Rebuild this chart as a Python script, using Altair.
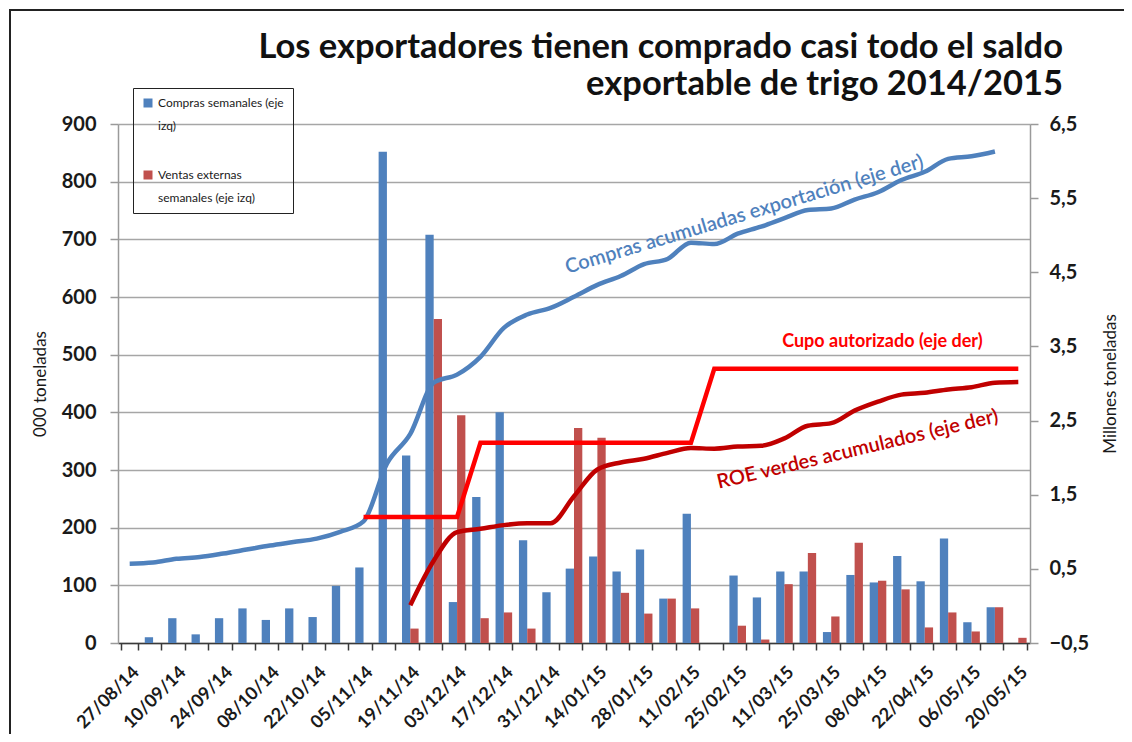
import json
import altair as alt
import pandas as pd

# ---------------- data ----------------
fechas = ["27/08/14", "03/09/14", "10/09/14", "17/09/14", "24/09/14", "01/10/14", "08/10/14",
          "15/10/14", "22/10/14", "29/10/14", "05/11/14", "12/11/14", "19/11/14", "26/11/14",
          "03/12/14", "10/12/14", "17/12/14", "24/12/14", "31/12/14", "07/01/15", "14/01/15",
          "21/01/15", "28/01/15", "04/02/15", "11/02/15", "18/02/15", "25/02/15", "04/03/15",
          "11/03/15", "18/03/15", "25/03/15", "01/04/15", "08/04/15", "15/04/15", "22/04/15",
          "29/04/15", "06/05/15", "13/05/15", "20/05/15"]

# weekly bars, thousand tonnes (left axis)
compras = [0, 10, 43, 15, 43, 60, 40, 60, 45, 99, 131, 852, 325, 708, 71, 253, 400, 178, 88, 129,
           150, 124, 162, 77, 224, 0, 117, 79, 124, 124, 19, 118, 105, 151, 107, 181, 36, 62, 0]
ventas = [0, 0, 0, 0, 0, 0, 0, 0, 0, 0, 0, 0, 25, 562, 395, 43, 53, 25, 0, 373,
          356, 87, 51, 77, 60, 0, 30, 6, 102, 156, 46, 174, 108, 93, 27, 53, 20, 62, 9]

# cumulative lines, million tonnes (right axis)
acumuladas = [0.57, 0.585, 0.636, 0.659, 0.706, 0.76, 0.814, 0.861, 0.908, 1.0, 1.14, 1.92, 2.32,
              3.01, 3.12, 3.36, 3.75, 3.93, 4.02, 4.17, 4.33, 4.45, 4.61, 4.68, 4.90, 4.88, 5.02,
              5.115, 5.23, 5.34, 5.36, 5.48, 5.58, 5.745, 5.855, 6.03, 6.065, 6.13, None]
cupo = [None, None, None, None, None, None, None, None, None, None,
        1.2, 1.2, 1.2, 1.2, 1.2,
        2.2, 2.2, 2.2, 2.2, 2.2, 2.2, 2.2, 2.2, 2.2, 2.2,
        3.2, 3.2, 3.2, 3.2, 3.2, 3.2, 3.2, 3.2, 3.2, 3.2, 3.2, 3.2, 3.2, 3.2]
roe = [None, None, None, None, None, None, None, None, None, None, None, None,
       0.01, 0.61, 0.995, 1.04, 1.09, 1.115, 1.115, 1.48, 1.84, 1.935, 1.985, 2.065, 2.13, 2.12,
       2.15, 2.16, 2.26, 2.43, 2.465, 2.634, 2.755, 2.85, 2.875, 2.92, 2.95, 3.01, 3.02]

serie_compras = "Compras semanales (eje izq)"
serie_ventas = "Ventas externas semanales (eje izq)"
etiquetas_x = fechas[::2]
ticks_izq = [0, 100, 200, 300, 400, 500, 600, 700, 800, 900]
ticks_der = [-0.5, 0.5, 1.5, 2.5, 3.5, 4.5, 5.5, 6.5]

anot_textos = ["Compras acumuladas exportación (eje der)", "Cupo autorizado (eje der)",
               "ROE verdes acumulados (eje der)"]
anot_fechas = ["25/02/15", "15/04/15", "01/04/15"]
anot_valores = [5.25, 3.56, 2.10]

titulo = ["Los exportadores tienen comprado casi todo el saldo", "exportable de trigo 2014/2015"]

# ---------------- tables ----------------
n = len(fechas)
bars_df = pd.DataFrame({
    "fecha": fechas + fechas,
    "serie": [serie_compras] * n + [serie_ventas] * n,
    "miles": compras + ventas,
})
lines_df = pd.DataFrame({
    "fecha": fechas * 3,
    "linea": ["acum"] * n + ["cupo"] * n + ["roe"] * n,
    "millones": acumuladas + cupo + roe,
})

FONT = "Lato"
AX_GRAY = "#9a9a9a"

x_enc = alt.X(
    "fecha:N", sort=fechas, title=None,
    scale=alt.Scale(paddingInner=0.29, paddingOuter=0.145),
    axis=alt.Axis(
        labelExpr="indexof(" + json.dumps(etiquetas_x) + ", datum.value) >= 0 ? datum.label : ''",
        labelAngle=-45, labelAlign="right", labelBaseline="top", labelOverlap=False,
        labelFontSize=18, labelFontWeight="bold", labelColor="#1a1a1a", labelPadding=13,
        tickBand="extent", tickSize=7, tickColor="#3a3a3a", tickWidth=1.5,
        domainColor="#3a3a3a", domainWidth=1.5, grid=False,
    ),
)

y_left = alt.Y(
    "miles:Q", title="000 toneladas",
    scale=alt.Scale(domain=[0, 900], nice=False),
    axis=alt.Axis(
        values=ticks_izq, grid=True, gridColor="#a6a6a6", gridWidth=1.5,
        domainColor=AX_GRAY, domainWidth=1.5, tickColor=AX_GRAY, tickWidth=1.5, tickSize=8,
        labelFontSize=20, labelFontWeight="bold", labelColor="#1a1a1a", labelPadding=14,
        titleFontSize=17, titleFontWeight="normal", titleColor="#1a1a1a", titlePadding=12,
    ),
)

y_right = alt.Y(
    "millones:Q", title="Millones toneladas",
    scale=alt.Scale(domain=[-0.5, 6.5], nice=False, zero=False),
    axis=alt.Axis(
        orient="right", values=ticks_der, grid=False,
        labelExpr="replace(format(datum.value, '.1f'), '.', ',')",
        domainColor=AX_GRAY, domainWidth=1.5, tickColor=AX_GRAY, tickWidth=1.5, tickSize=8,
        labelFontSize=20, labelFontWeight="bold", labelColor="#1a1a1a", labelPadding=11,
        titleFontSize=17, titleFontWeight="normal", titleColor="#1a1a1a", titlePadding=31,
        titleAngle=270,
    ),
)

frame = alt.Chart(pd.DataFrame({"k": [0]})).mark_rect(
    fill="transparent", stroke="#222222", strokeWidth=2
).encode(x=alt.value(-108), x2=alt.value(1100), y=alt.value(-114), y2=alt.value(700))

bars = alt.Chart(bars_df).mark_bar().encode(
    x=x_enc,
    xOffset=alt.XOffset("serie:N", sort=[serie_compras, serie_ventas]),
    y=y_left,
    color=alt.Color(
        "serie:N",
        scale=alt.Scale(domain=[serie_compras, serie_ventas], range=["#4F81BD", "#C0504D"]),
        legend=alt.Legend(
            title=None, orient="none", legendX=15, legendY=-36,
            strokeColor="#222222", padding=9, rowPadding=37,
            labelFont=FONT, labelFontSize=12, labelColor="#1a1a1a", labelLimit=200,
            symbolType="square", symbolSize=81, symbolStrokeWidth=0,
            labelExpr=("datum.label == '" + serie_compras + "' ? ['Compras semanales (eje', 'izq)']"
                       " : ['Ventas externas', 'semanales (eje izq)']"),
        ),
    ),
)

def linea(clave, color, interp):
    return alt.Chart(lines_df).transform_filter(alt.datum.linea == clave).mark_line(
        color=color, strokeWidth=4.5, interpolate=interp
    ).encode(x=x_enc, y=y_right)

def anotacion(i, color, angle, weight, size, dx=0):
    df = pd.DataFrame({"fecha": [anot_fechas[i]], "millones": [anot_valores[i]],
                       "texto": [anot_textos[i]]})
    return alt.Chart(df).mark_text(
        color=color, angle=angle, fontWeight=weight, fontSize=size, font=FONT,
        align="center", baseline="middle", dx=dx
    ).encode(x=x_enc, y=y_right, text="texto:N")

right_group = alt.layer(
    linea("acum", "#4F81BD", "monotone"),
    linea("cupo", "#FF0000", "linear"),
    linea("roe", "#C00000", "monotone"),
    anotacion(0, "#4F81BD", 343.4, 600, 20, dx=7),
    anotacion(1, "#FF0000", 0, "bold", 18, dx=-19),
    anotacion(2, "#C00000", 346.6, 600, 20, dx=3),
)

chart = alt.layer(frame, bars, right_group).resolve_scale(y="independent").properties(
    width=912, height=519,
    autosize=alt.AutoSizeParams(type="none"),
    padding={"left": 110, "top": 116, "right": 94, "bottom": 91},
    title=alt.TitleParams(
        text=titulo, anchor="end", frame="group", dx=33, offset=-93,
        font=FONT, fontSize=34.5, fontWeight="bold", color="#111111", lineHeight=37,
    ),
).configure(style={"guide-label": {"lineHeight": 23}}).configure_view(
    stroke="transparent"
).configure_axis(labelFont=FONT, titleFont=FONT)

chart.save("out.html", embed_options={"renderer": "svg", "actions": False})
